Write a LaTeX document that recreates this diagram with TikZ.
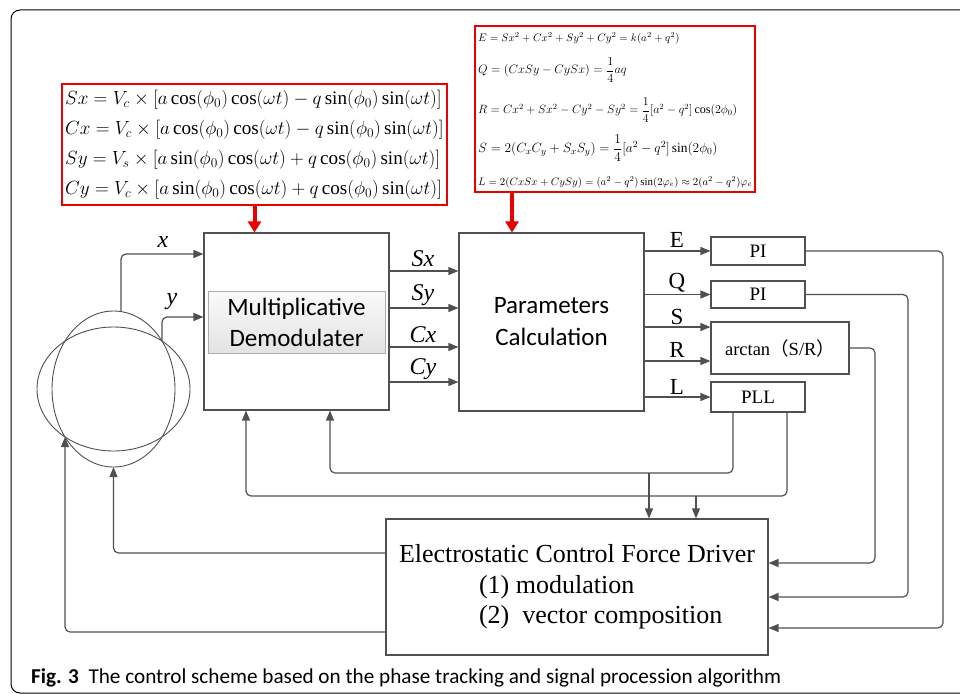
\RequirePackage{fix-cm}
\documentclass[tikz,border=0pt]{standalone}
\usepackage{amsmath}
\usepackage{fontspec}
\setmainfont{Liberation Serif}
\newfontfamily\calfont{Carlito}
\newfontfamily\cjk{Noto Sans CJK SC}
\usetikzlibrary{arrows.meta}
\definecolor{wire}{RGB}{80,80,80}
\definecolor{eqred}{RGB}{235,0,0}

\tikzset{
  block/.style={draw=wire,line width=1.1pt,fill=white,inner sep=0pt},
  mdbox/.style={draw=gray!65,line width=1pt,top color=gray!4,bottom color=gray!22,inner sep=0pt},
  wireline/.style={draw=wire,line width=1.2pt,rounded corners=5pt},
  arr/.style={wireline,-{Triangle[length=10pt,width=8pt]}},
  eqbox/.style={draw=eqred,line width=2.6pt,inner sep=0pt},
  redarr/.style={draw=eqred,line width=4pt,-{Triangle[length=11pt,width=13pt]}},
  siglabel/.style={inner sep=0pt,font=\fontsize{24}{24}\selectfont\itshape},
  outlabel/.style={inner sep=0pt,font=\fontsize{23}{23}\selectfont},
  smallbox/.style={block,font=\fontsize{19}{19}\selectfont}
}

\begin{document}
\begin{tikzpicture}[x=1pt,y=-1pt]
\useasboundingbox (0,0) rectangle (960,693);
\draw[line width=1pt,rounded corners=9pt] (11,10) rectangle (990,693);

\node[eqbox,minimum width=385pt,minimum height=121pt] (eqA) at (254.5,144.5) {};
\foreach \y/\eq [count=\n] in {
  100/{Sx=V_c\times[a\cos(\phi_0)\cos(\omega t)-q\sin(\phi_0)\sin(\omega t)]},
  130/{Cx=V_c\times[a\cos(\phi_0)\cos(\omega t)-q\sin(\phi_0)\sin(\omega t)]},
  160/{Sy=V_s\times[a\sin(\phi_0)\cos(\omega t)+q\cos(\phi_0)\sin(\omega t)]},
  190/{Cy=V_c\times[a\sin(\phi_0)\cos(\omega t)+q\cos(\phi_0)\sin(\omega t)]}}
  \node[anchor=west,inner sep=0pt,font=\fontsize{19.1}{19.1}\selectfont] (eqA\n) at (65,\y) {$\eq$};

\node[eqbox,minimum width=280pt,minimum height=166pt] (eqB) at (615,109) {};
\foreach \y/\fsz/\eq [count=\n] in {
  38/10.9/{E=Sx^2+Cx^2+Sy^2+Cy^2=k(a^2+q^2)},
  70/12.3/{Q=(CxSy-CySx)=\dfrac{1}{4}aq},
  110/12/{R=Cx^2+Sx^2-Cy^2-Sy^2=\dfrac{1}{4}[a^2-q^2]\cos(2\phi_0)},
  148/13.4/{S=2(C_xC_y+S_xS_y)=\dfrac{1}{4}[a^2-q^2]\sin(2\phi_0)},
  182/10.8/{L=2(CxSx+CySy)=(a^2-q^2)\sin(2\varphi_e)\approx2(a^2-q^2)\varphi_e}}
  \node[anchor=west,inner sep=0pt,font=\fontsize{\fsz}{\fsz}\selectfont] (eqB\n) at (478,\y) {$\eq$};

\node[block,minimum width=185pt,minimum height=177pt] (demod) at (296.5,321.5) {};
\node[mdbox,minimum width=177pt,minimum height=62pt,align=center,font=\calfont\fontsize{25}{31}\selectfont] (mdtext) at (296.5,322) {Multiplicative\\Demodulater};
\node[block,minimum width=185pt,minimum height=178pt,align=center,font=\calfont\fontsize{25}{32}\selectfont] (calc) at (551.5,322) {Parameters\\Calculation};

\node[smallbox,minimum width=94pt,minimum height=28pt] (pi1) at (758,251) {PI};
\node[smallbox,minimum width=94pt,minimum height=27pt] (pi2) at (758,294.5) {PI};
\node[smallbox,minimum width=138pt,minimum height=52pt,font=\fontsize{18.5}{18.5}\selectfont] (atan) at (780,348) {arctan{\cjk （}S/R{\cjk ）}};
\node[smallbox,minimum width=94pt,minimum height=30pt] (pll) at (758,397) {PLL};

\node[block,minimum width=382pt,minimum height=136pt,align=left,font=\fontsize{26}{30.5}\selectfont] (driver) at (577,587)
  {Electrostatic Control Force Driver\\\hspace*{80pt}(1) modulation\\\hspace*{80pt}(2)\ \ vector composition};

\draw[wire,line width=0.9pt] (113.5,389) ellipse [x radius=61.5pt,y radius=78pt];
\draw[wire,line width=0.9pt] (113.5,389) ellipse [x radius=76.5pt,y radius=62pt];
\coordinate (xo) at (121,311.6);
\coordinate (yo) at (162,341);
\coordinate (ellB) at (113.5,467);
\coordinate (ellX) at (65,437);

\draw[arr] (xo) |- (demod.west |- 0,254);
\draw[arr] (yo) |- (demod.west |- 0,317);
\node[siglabel] (lbx) at (163,242) {x};
\node[siglabel] (lby) at (172,302) {y};

\draw[redarr] (eqA.south) -- (eqA.south |- demod.north);
\coordinate (tap) at ([xshift=-103pt]eqB.south);
\draw[redarr] (tap) -- (tap |- calc.north);

\foreach \y/\s in {271/Sx,308/Sy,347/Cx,382/Cy} {
  \draw[arr] (demod.east |- 0,\y) -- (calc.west |- 0,\y);
  \node[siglabel] (lb\s) at (423,\y-12.5) {\s};
}

\draw[arr] (calc.east |- pi1) -- (pi1.west);
\draw[arr] (calc.east |- pi2) -- (pi2.west);
\draw[arr] (calc.east |- 0,327) -- (atan.west |- 0,327);
\draw[arr] (calc.east |- 0,361) -- (atan.west |- 0,361);
\draw[arr] (calc.east |- pll) -- (pll.west);
\foreach \y/\s in {240/E,283/Q,317/S,350/R,387/L}
  \node[outlabel] (lb\s) at (677,\y) {\s};

\coordinate (fbA) at (330,473);
\coordinate (fbB) at (246,496);
\draw[arr] ([xshift=-25pt]pll.south) |- (fbA) -- (fbA |- demod.south);
\draw[arr] ([xshift=29pt]pll.south) |- (fbB) -- (fbB |- demod.south);
\coordinate (jA) at (649,473);
\coordinate (jB) at (696,496);
\draw[arr] (jA) -- (jA |- driver.north);
\draw[arr] (jB) -- (jB |- driver.north);

\coordinate (rE) at (943,628);
\coordinate (rQ) at (908,597);
\coordinate (rR) at (875,563);
\draw[arr] (pi1.east) -| (rE) -- (rE -| driver.east);
\draw[arr] (pi2.east) -| (rQ) -- (rQ -| driver.east);
\draw[arr] (atan.east) -| (rR) -- (rR -| driver.east);

\draw[arr] ([yshift=34pt]driver.west) -| (ellB);
\draw[arr] ([yshift=-45pt]driver.west) -| (ellX);

\node[anchor=base west,inner sep=0pt,font=\calfont\fontsize{21.2}{21.2}\selectfont] (cap) at (31,683)
  {\textbf{Fig. 3}\hspace{0.45em}The control scheme based on the phase tracking and signal procession algorithm};
\end{tikzpicture}
\end{document}
